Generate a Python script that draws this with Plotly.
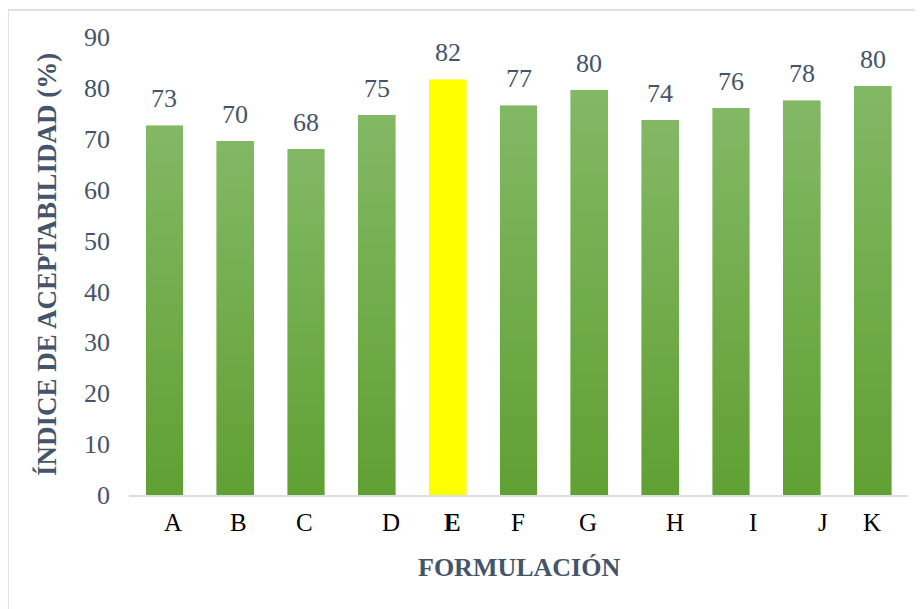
import plotly.graph_objects as go

categories = ["A", "B", "C", "D", "E", "F", "G", "H", "I", "J", "K"]
values = [72.6, 69.5, 67.9, 74.6, 81.6, 76.5, 79.5, 73.6, 76.0, 77.5, 80.3]
value_labels = ["73", "70", "68", "75", "82", "77", "80", "74", "76", "78", "80"]
highlight = "E"
y_ticks = [0, 10, 20, 30, 40, 50, 60, 70, 80, 90]
# small horizontal offsets (px) of the category labels as placed in the original
label_shift = [9, 3, -2, 14, 5, -1, -1, 15, 22, 21, -1]

SERIF = "Liberation Serif, Times New Roman, serif"
TITLE_COLOR = "#44546A"
TOP = (131, 184, 101)
BOTTOM = (96, 160, 50)
N_SEG = 30

def mix(t):
    return "rgb(%d,%d,%d)" % tuple(round(BOTTOM[i] + (TOP[i] - BOTTOM[i]) * t) for i in range(3))

fig = go.Figure()
for k in range(N_SEG):
    col = mix((k + 0.5) / N_SEG)
    colors = ["#FFFF00" if c == highlight else col for c in categories]
    fig.add_trace(go.Bar(
        x=categories, y=[v / N_SEG for v in values],
        marker=dict(color=colors, line=dict(width=0.6, color=colors)),
        width=0.52, showlegend=False, hoverinfo="skip"))

annotations = []
for c, v, t in zip(categories, values, value_labels):
    annotations.append(dict(
        x=c, y=v, xref="x", yref="y", text=t, showarrow=False,
        yanchor="middle", yshift=27,
        font=dict(family=SERIF, size=26, color=TITLE_COLOR)))
for c, s in zip(categories, label_shift):
    annotations.append(dict(
        x=c, y=0, xref="x", yref="y", text=("<b>%s</b>" % c) if c == highlight else c,
        showarrow=False, yanchor="middle", yshift=-27, xshift=s,
        font=dict(family=SERIF, size=25, color="#000000")))
annotations.append(dict(
    x=0.5, y=(495 - 567) / 458, xref="paper", yref="paper", text="<b>FORMULACIÓN</b>",
    showarrow=False, xanchor="center", yanchor="middle",
    font=dict(family=SERIF, size=26, color=TITLE_COLOR)))
annotations.append(dict(
    x=(47 - 129) / 779, y=(495 - 265) / 458, xref="paper", yref="paper",
    text="<b>ÍNDICE DE ACEPTABILIDAD (%)</b>", textangle=-90,
    showarrow=False, xanchor="center", yanchor="middle",
    font=dict(family=SERIF, size=27, color=TITLE_COLOR)))

fig.update_layout(
    width=923, height=609,
    margin=dict(l=121, r=23, t=29, b=122, autoexpand=False),
    paper_bgcolor="white", plot_bgcolor="white",
    barmode="stack",
    font=dict(family=SERIF, size=26, color=TITLE_COLOR),
    annotations=annotations,
    xaxis=dict(type="category", range=[-0.5, 10.5], showticklabels=False,
               showline=True, linecolor="#D9DEE5", linewidth=2, ticks="",
               showgrid=False, zeroline=False, automargin=False),
    yaxis=dict(range=[0, 90], tickvals=y_ticks, showgrid=False, zeroline=False,
               showline=False, ticks="", ticklabelstandoff=18, automargin=False,
               tickfont=dict(family=SERIF, size=26, color=TITLE_COLOR)),
    shapes=[dict(type="rect", xref="paper", yref="paper",
                 x0=(8 - 129) / 779, x1=(940 - 129) / 779,
                 y0=(495 - 640) / 458, y1=(495 - 10) / 458,
                 line=dict(color="#DEE2E8", width=2), fillcolor="rgba(0,0,0,0)",
                 layer="below")],
)

fig.write_html("out.html")
